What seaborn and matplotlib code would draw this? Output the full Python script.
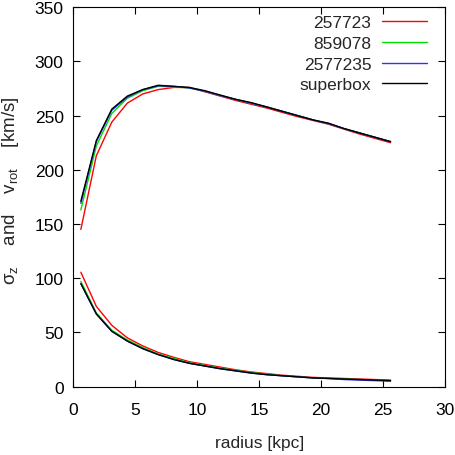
import matplotlib
matplotlib.use("Agg")
import matplotlib.pyplot as plt
import seaborn as sns
import pandas as pd

radius = [0.6, 1.85, 3.1, 4.35, 5.6, 6.85, 8.1, 9.35, 10.6, 11.85, 13.1,
          14.35, 15.6, 16.85, 18.1, 19.35, 20.6, 21.85, 23.1, 24.35, 25.6]

runs = ["257723", "859078", "2577235", "superbox"]
colors = ["#ff0000", "#00dd00", "#3030ff", "#000000"]

vrot_257723 = [145, 213, 244, 261.5, 270, 274, 276, 276, 272, 268, 264, 260.5,
               257, 253, 249, 245.5, 242, 237.5, 233, 229, 225]
vrot_859078 = [163, 222, 252, 266, 273, 277, 276.5, 275.5, 272.5, 268.5, 265,
               261.5, 258, 254, 250, 246, 242.5, 238, 234, 230, 226]
vrot_2577235 = [169, 226, 255, 267, 274, 277.5, 277, 275.5, 272.5, 268.5, 265,
                261.5, 258, 254, 250, 246, 242.5, 238, 234, 230, 226]
vrot_superbox = [171, 227, 256, 268, 274, 278, 277, 276, 273, 269, 265, 262,
                 258, 254, 250, 246, 243, 238, 234, 230, 226]

sigz_257723 = [105.5, 74, 56.5, 45, 37.5, 31.5, 27, 23, 20.5, 18, 15.5, 13.5,
               12, 10.5, 9.5, 8.5, 8, 7.5, 7, 6.5, 6]
sigz_859078 = [97, 68, 52, 43, 36, 30, 26, 22, 19.5, 17, 15, 13, 11.5, 10, 9,
               8, 7.5, 7, 6.5, 6, 5.5]
sigz_2577235 = [95, 67, 51, 42, 35, 29.5, 25, 21.5, 19, 16.5, 14.5, 12.5, 11,
                10, 9, 8, 7.5, 6.5, 6, 5.5, 5]
sigz_superbox = [95, 67, 51, 42, 35, 29.5, 25, 21.5, 19, 16.5, 14.5, 12.5, 11,
                 10, 9, 8, 7.5, 7, 6.5, 6, 5.5]

vrot = [vrot_257723, vrot_859078, vrot_2577235, vrot_superbox]
sigz = [sigz_257723, sigz_859078, sigz_2577235, sigz_superbox]

rows = []
for run, v, s in zip(runs, vrot, sigz):
    for r, a, b in zip(radius, v, s):
        rows.append({"radius": r, "value": a, "run": run, "comp": "vrot"})
        rows.append({"radius": r, "value": b, "run": run, "comp": "sigz"})
df = pd.DataFrame(rows)

sns.set_style("ticks")
plt.rcParams["font.family"] = ["Liberation Sans", "DejaVu Sans"]
plt.rcParams["mathtext.default"] = "regular"

FS = 12.5
fig = plt.figure(figsize=(4.56, 4.56), dpi=100)
ax = fig.add_axes([0.161, 0.150, 0.815, 0.832])

sns.lineplot(data=df, x="radius", y="value", hue="run", units="comp",
             estimator=None, palette=dict(zip(runs, colors)),
             hue_order=runs, linewidth=1.0, ax=ax, sort=False)

ax.set_xlim(0, 30)
ax.set_ylim(0, 350)
ax.set_xticks([0, 5, 10, 15, 20, 25, 30])
ax.set_yticks([0, 50, 100, 150, 200, 250, 300, 350])
ax.tick_params(direction="in", length=5, width=0.8, top=True, right=True,
               labelsize=FS, colors="black")
ax.tick_params(axis="x", pad=11)
ax.tick_params(axis="y", pad=7)
for sp in ax.spines.values():
    sp.set_linewidth(0.8)
    sp.set_color("black")

ax.set_xlabel("radius [kpc]", fontsize=FS)
ax.set_ylabel(r"$\sigma_z$    and    v$_{rot}$    [km/s]", fontsize=FS + 1)
ax.xaxis.set_label_coords(0.5, -0.127)
ax.yaxis.set_label_coords(-0.142, 0.518)

handles, labels = ax.get_legend_handles_labels()
leg = ax.legend(handles, labels, loc="upper right", frameon=False,
                markerfirst=False, fontsize=FS, handlelength=2.6,
                handletextpad=0.6, labelspacing=0.32, borderaxespad=0,
                borderpad=0, bbox_to_anchor=(0.951, 0.979))
for line in leg.get_lines():
    line.set_linewidth(1.0)

fig.savefig("out.png", dpi=100)
